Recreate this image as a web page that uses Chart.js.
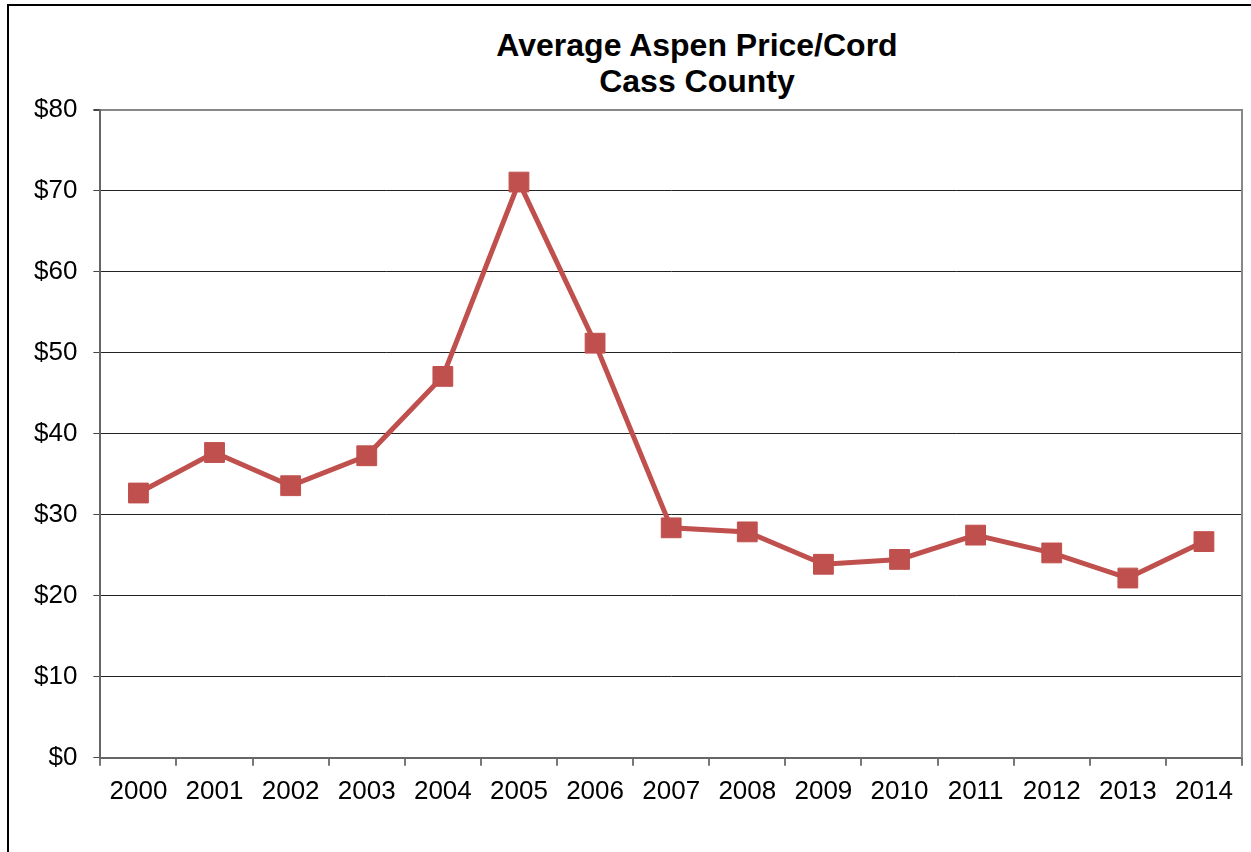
<!DOCTYPE html>
<html>
<head>
<meta charset="utf-8">
<script src="https://cdn.jsdelivr.net/npm/chart.js@4/dist/chart.umd.min.js"></script>
<style>
  html, body { margin: 0; padding: 0; background: #fff; overflow: hidden; }
  #frame { position: absolute; left: 7px; top: 4px; width: 1300px; height: 900px;
           border-left: 2px solid #000; border-top: 2px solid #000; }
  #title { position: absolute; left: 397px; width: 600px; top: 27px; text-align: center;
           font-family: "Liberation Sans", Arial, sans-serif; font-weight: bold; font-size: 32px;
           line-height: 36px; color: #000; white-space: nowrap; }
  #wrap { position: absolute; left: 0; top: 0; width: 1257px; height: 852px; }
</style>
</head>
<body>
<div id="frame"></div>
<div id="title">Average Aspen Price/Cord<br>Cass County</div>
<div id="wrap"><canvas id="c"></canvas></div>
<script>
const years = ["2000","2001","2002","2003","2004","2005","2006","2007","2008","2009","2010","2011","2012","2013","2014"];
const prices = [32.7, 37.7, 33.6, 37.3, 47.1, 71.1, 51.2, 28.4, 27.9, 23.9, 24.5, 27.5, 25.3, 22.2, 26.7];
const yTicks = [0, 10, 20, 30, 40, 50, 60, 70, 80];

const font = { family: '"Liberation Sans", Arial, sans-serif', size: 26 };

new Chart(document.getElementById('c'), {
  type: 'line',
  data: {
    labels: years,
    datasets: [{
      label: 'Average Aspen Price/Cord',
      data: prices,
      borderColor: '#C0504D',
      backgroundColor: '#C0504D',
      borderWidth: 5,
      tension: 0,
      pointStyle: 'rect',
      pointRadius: 14,
      pointHoverRadius: 14,
      pointBorderWidth: 1,
      pointBorderColor: '#C0504D',
      pointBackgroundColor: '#C0504D'
    }]
  },
  options: {
    responsive: true,
    maintainAspectRatio: false,
    animation: false,
    events: [],
    layout: { padding: { left: 18, right: 3, top: 110, bottom: 35 } },
    plugins: { legend: { display: false }, tooltip: { enabled: false }, title: { display: false } },
    scales: {
      x: {
        offset: true,
        grid: { offset: true, drawOnChartArea: false, drawTicks: true, tickLength: 8, color: '#777', lineWidth: 2 },
        border: { display: true, color: '#666', width: 2 },
        ticks: { color: '#000', font: font, padding: 10, maxRotation: 0, autoSkip: false }
      },
      y: {
        min: 0, max: 80,
        afterBuildTicks: (axis) => { axis.ticks = yTicks.map(v => ({ value: v })); },
        grid: {
          color: (ctx) => ctx.tick && ctx.tick.value === 80 ? '#888' : '#222',
          lineWidth: (ctx) => ctx.tick && ctx.tick.value === 80 ? 2 : 1,
          drawTicks: true, tickLength: 7, tickColor: '#444'
        },
        border: { display: true, color: '#666', width: 2 },
        ticks: { color: '#000', font: font, padding: 16, callback: (v) => '$' + v }
      },
      y2: {
        position: 'right',
        min: 0, max: 80,
        grid: { drawOnChartArea: false, drawTicks: false },
        border: { display: true, color: '#888', width: 2 },
        ticks: { display: false }
      }
    }
  }
});
</script>
</body>
</html>
